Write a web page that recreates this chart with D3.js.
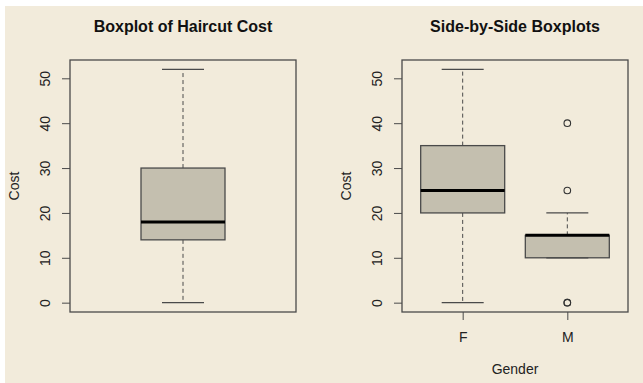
<!DOCTYPE html>
<html>
<head>
<meta charset="utf-8">
<script src="https://cdn.jsdelivr.net/npm/d3@7"></script>
<style>
  html, body { margin: 0; padding: 0; background: #ffffff; }
  svg { display: block; }
</style>
</head>
<body>
<svg id="chart" width="643" height="383"></svg>
<script>
// Five-number summaries for haircut cost
const statNames = ["min", "q1", "median", "q3", "max"];
const overallStats = [0, 14, 18, 30, 52];

const genders = ["F", "M"];
const femaleStats = [0, 20, 25, 35, 52];
const maleStats = [10, 10, 15, 15, 20];
const maleOutliers = [40, 25, 0, 0];

const yTicks = [0, 10, 20, 30, 40, 50];

const titles = ["Boxplot of Haircut Cost", "Side-by-Side Boxplots"];
const yLabel = "Cost";
const xLabel = "Gender";

const toStats = arr => Object.fromEntries(statNames.map((k, i) => [k, arr[i]]));

const svg = d3.select("#chart");
const W = 643, H = 383;
const bg = "#f2ebdb";
const boxFill = "#c4bfaf";
const lineCol = "#4a4a4a";
const font = "'Liberation Sans', Arial, Helvetica, sans-serif";
const labelSize = 14;

svg.append("rect").attr("x", 5).attr("y", 6).attr("width", W - 5).attr("height", H - 6).attr("fill", bg);

const plotTop = 60, plotBottom = 312;
const y = d3.scaleLinear().domain([-2.08, 54.08]).range([plotBottom, plotTop]);

function panel(g, left, right, groups, title, showX) {
  // frame
  g.append("rect").attr("x", left).attr("y", plotTop).attr("width", right - left).attr("height", plotBottom - plotTop)
    .attr("fill", "none").attr("stroke", lineCol).attr("stroke-width", 1.3);

  // y axis
  const yAxis = g.append("g").attr("transform", `translate(${left},0)`)
    .call(d3.axisLeft(y).tickValues(yTicks).tickSize(8).tickPadding(0));
  yAxis.select(".domain").remove();
  yAxis.selectAll(".tick line").attr("stroke", lineCol).attr("stroke-width", 1);
  yAxis.selectAll(".tick text")
    .attr("transform", "rotate(-90)")
    .attr("x", 0).attr("y", -25)
    .attr("dy", "0.35em")
    .attr("text-anchor", "middle")
    .attr("font-family", font).attr("font-size", labelSize).attr("fill", "#222");

  g.append("text")
    .attr("transform", `translate(${left - 56},${(plotTop + plotBottom) / 2}) rotate(-90)`)
    .attr("text-anchor", "middle").attr("dy", "0.35em")
    .attr("font-family", font).attr("font-size", labelSize).attr("fill", "#222")
    .text(yLabel);

  g.append("text")
    .attr("x", (left + right) / 2).attr("y", 32)
    .attr("text-anchor", "middle")
    .attr("font-family", font).attr("font-size", 16).attr("font-weight", "bold").attr("fill", "#111")
    .text(title);

  // group centers at 1..n, axis range extended 4% beyond [0.5, n+0.5]
  const n = groups.length;
  const xc = d3.scaleLinear().domain([0.5 - 0.04 * n, n + 0.5 + 0.04 * n]).range([left, right]);
  const bw = 84;

  if (showX) {
    const xAxis = g.append("g").attr("transform", `translate(0,${plotBottom})`)
      .call(d3.axisBottom(d3.scalePoint().domain(groups.map(d => d.name)).range([xc(1), xc(n)])).tickSize(8).tickPadding(12));
    xAxis.select(".domain").remove();
    xAxis.selectAll(".tick line").attr("stroke", lineCol);
    xAxis.selectAll(".tick text").attr("font-family", font).attr("font-size", labelSize).attr("fill", "#222");
    g.append("text")
      .attr("x", (left + right) / 2).attr("y", 374)
      .attr("text-anchor", "middle")
      .attr("font-family", font).attr("font-size", labelSize).attr("fill", "#222")
      .text(xLabel);
  }

  groups.forEach((d, i) => {
    const s = d.stats;
    const cx = xc(i + 1);
    const hw = bw / 2, cap = bw / 4;
    // whiskers
    g.append("line").attr("x1", cx).attr("x2", cx).attr("y1", y(s.q3)).attr("y2", y(s.max))
      .attr("stroke", lineCol).attr("stroke-dasharray", "4,3").attr("stroke-width", 1);
    g.append("line").attr("x1", cx).attr("x2", cx).attr("y1", y(s.q1)).attr("y2", y(s.min))
      .attr("stroke", lineCol).attr("stroke-dasharray", "4,3").attr("stroke-width", 1);
    g.append("line").attr("x1", cx - cap).attr("x2", cx + cap).attr("y1", y(s.max)).attr("y2", y(s.max))
      .attr("stroke", lineCol).attr("stroke-width", 1.2);
    // box
    g.append("rect").attr("x", cx - hw).attr("width", bw)
      .attr("y", y(s.q3)).attr("height", y(s.q1) - y(s.q3))
      .attr("fill", boxFill).attr("stroke", lineCol).attr("stroke-width", 1.3);
    g.append("line").attr("x1", cx - cap).attr("x2", cx + cap).attr("y1", y(s.min)).attr("y2", y(s.min))
      .attr("stroke", lineCol).attr("stroke-width", 1.2);
    // median
    g.append("line").attr("x1", cx - hw).attr("x2", cx + hw).attr("y1", y(s.median)).attr("y2", y(s.median))
      .attr("stroke", "#000").attr("stroke-width", 3);
    // outliers
    (d.outliers || []).forEach(v => {
      g.append("circle").attr("cx", cx).attr("cy", y(v)).attr("r", 3.3)
        .attr("fill", "none").attr("stroke", "#333").attr("stroke-width", 1.1);
    });
  });
}

panel(svg.append("g"), 70, 296, [{ name: "", stats: toStats(overallStats) }], titles[0], false);
panel(svg.append("g"), 402, 628, [
  { name: genders[0], stats: toStats(femaleStats) },
  { name: genders[1], stats: toStats(maleStats), outliers: maleOutliers }
], titles[1], true);
</script>
</body>
</html>
